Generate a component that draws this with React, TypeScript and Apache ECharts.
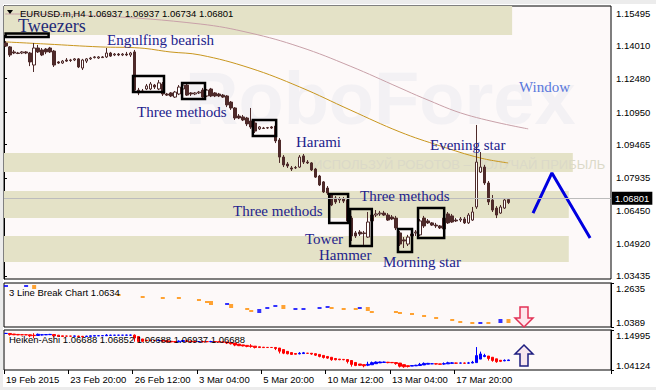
import React, { useEffect, useRef } from 'react';
import * as echarts from 'echarts';

const FONT = '"Liberation Sans", Arial, sans-serif';
const SERIF = '"Liberation Serif", "Times New Roman", serif';

const xLabels = ['19 Feb 2015', '23 Feb 20:00', '26 Feb 12:00', '3 Mar 04:00', '5 Mar 20:00', '10 Mar 12:00', '13 Mar 04:00', '17 Mar 20:00'];
const mainTicks = [1.15495, 1.1401, 1.1248, 1.1095, 1.09465, 1.07935, 1.0645, 1.0492, 1.03435];
const lbTicks = [1.0389, 1.2635];
const haTicks = [1.04124, 1.14995];
const lastPrice = 1.06801;
const NBARS = 151;
const MAIN_MIN = 1.03297;
const MAIN_MAX = 1.15816;

// [open, close, low, high]
const candles: number[][] = [
  [1.1412, 1.1398, 1.1394, 1.1421],
  [1.1394, 1.1357, 1.1348, 1.1398],
  [1.1371, 1.1366, 1.1361, 1.1380],
  [1.1366, 1.1364, 1.1361, 1.1371],
  [1.1366, 1.1371, 1.1361, 1.1375],
  [1.1371, 1.1366, 1.1361, 1.1375],
  [1.1366, 1.1325, 1.1306, 1.1371],
  [1.1311, 1.1389, 1.1279, 1.1412],
  [1.1389, 1.1371, 1.1366, 1.1403],
  [1.1380, 1.1357, 1.1352, 1.1389],
  [1.1384, 1.1371, 1.1361, 1.1389],
  [1.1389, 1.1371, 1.1366, 1.1394],
  [1.1375, 1.1311, 1.1302, 1.1380],
  [1.1325, 1.1320, 1.1316, 1.1329],
  [1.1320, 1.1329, 1.1316, 1.1334],
  [1.1334, 1.1329, 1.1325, 1.1343],
  [1.1334, 1.1332, 1.1325, 1.1339],
  [1.1334, 1.1339, 1.1329, 1.1343],
  [1.1339, 1.1302, 1.1297, 1.1343],
  [1.1297, 1.1334, 1.1288, 1.1339],
  [1.1329, 1.1339, 1.1320, 1.1343],
  [1.1339, 1.1343, 1.1334, 1.1348],
  [1.1345, 1.1348, 1.1341, 1.1352],
  [1.1343, 1.1348, 1.1339, 1.1352],
  [1.1348, 1.1345, 1.1343, 1.1352],
  [1.1348, 1.1366, 1.1343, 1.1389],
  [1.1366, 1.1352, 1.1348, 1.1371],
  [1.1357, 1.1361, 1.1352, 1.1366],
  [1.1361, 1.1357, 1.1352, 1.1366],
  [1.1357, 1.1361, 1.1352, 1.1366],
  [1.1361, 1.1357, 1.1352, 1.1371],
  [1.1357, 1.1366, 1.1348, 1.1371],
  [1.1371, 1.1196, 1.1183, 1.1380],
  [1.1196, 1.1183, 1.1173, 1.1206],
  [1.1187, 1.1192, 1.1183, 1.1201],
  [1.1201, 1.1215, 1.1196, 1.1224],
  [1.1201, 1.1224, 1.1196, 1.1233],
  [1.1219, 1.1210, 1.1201, 1.1224],
  [1.1201, 1.1229, 1.1196, 1.1242],
  [1.1224, 1.1178, 1.1169, 1.1233],
  [1.1178, 1.1173, 1.1169, 1.1183],
  [1.1183, 1.1169, 1.1164, 1.1187],
  [1.1164, 1.1187, 1.1160, 1.1192],
  [1.1178, 1.1210, 1.1173, 1.1219],
  [1.1201, 1.1219, 1.1196, 1.1229],
  [1.1219, 1.1173, 1.1169, 1.1224],
  [1.1183, 1.1178, 1.1169, 1.1187],
  [1.1178, 1.1183, 1.1173, 1.1187],
  [1.1183, 1.1187, 1.1178, 1.1192],
  [1.1196, 1.1164, 1.1160, 1.1206],
  [1.1169, 1.1196, 1.1164, 1.1201],
  [1.1201, 1.1169, 1.1164, 1.1206],
  [1.1183, 1.1169, 1.1164, 1.1187],
  [1.1178, 1.1169, 1.1164, 1.1183],
  [1.1173, 1.1164, 1.1160, 1.1178],
  [1.1169, 1.1128, 1.1118, 1.1173],
  [1.1141, 1.1114, 1.1105, 1.1146],
  [1.1114, 1.1068, 1.1059, 1.1118],
  [1.1077, 1.1068, 1.1063, 1.1086],
  [1.1073, 1.1059, 1.1054, 1.1082],
  [1.1068, 1.1041, 1.1031, 1.1073],
  [1.1054, 1.1027, 1.1018, 1.1114],
  [1.1045, 1.1008, 1.0999, 1.1054],
  [1.1018, 1.1027, 1.1013, 1.1031],
  [1.1022, 1.1020, 1.1018, 1.1027],
  [1.1022, 1.1024, 1.1018, 1.1027],
  [1.1027, 1.1022, 1.1018, 1.1031],
  [1.1031, 1.0963, 1.0953, 1.1036],
  [1.0967, 1.0889, 1.0862, 1.0976],
  [1.0889, 1.0853, 1.0843, 1.0898],
  [1.0857, 1.0848, 1.0839, 1.0866],
  [1.0839, 1.0834, 1.0825, 1.0848],
  [1.0839, 1.0841, 1.0834, 1.0848],
  [1.0843, 1.0889, 1.0839, 1.0898],
  [1.0894, 1.0866, 1.0857, 1.0903],
  [1.0866, 1.0862, 1.0857, 1.0875],
  [1.0862, 1.0830, 1.0825, 1.0866],
  [1.0834, 1.0797, 1.0793, 1.0839],
  [1.0802, 1.0761, 1.0756, 1.0807],
  [1.0775, 1.0729, 1.0724, 1.0779],
  [1.0747, 1.0724, 1.0715, 1.0756],
  [1.0715, 1.0669, 1.0664, 1.0724],
  [1.0701, 1.0683, 1.0674, 1.0710],
  [1.0692, 1.0697, 1.0678, 1.0706],
  [1.0697, 1.0687, 1.0678, 1.0706],
  [1.0692, 1.0596, 1.0591, 1.0697],
  [1.0609, 1.0527, 1.0504, 1.0619],
  [1.0541, 1.0527, 1.0518, 1.0550],
  [1.0545, 1.0536, 1.0527, 1.0554],
  [1.0541, 1.0538, 1.0486, 1.0550],
  [1.0522, 1.0591, 1.0518, 1.0637],
  [1.0596, 1.0623, 1.0587, 1.0642],
  [1.0623, 1.0628, 1.0614, 1.0646],
  [1.0628, 1.0632, 1.0619, 1.0642],
  [1.0632, 1.0623, 1.0619, 1.0642],
  [1.0623, 1.0600, 1.0596, 1.0632],
  [1.0614, 1.0605, 1.0600, 1.0623],
  [1.0609, 1.0564, 1.0554, 1.0619],
  [1.0541, 1.0490, 1.0481, 1.0550],
  [1.0509, 1.0504, 1.0472, 1.0522],
  [1.0490, 1.0522, 1.0481, 1.0532],
  [1.0527, 1.0536, 1.0522, 1.0545],
  [1.0541, 1.0545, 1.0527, 1.0554],
  [1.0532, 1.0596, 1.0527, 1.0605],
  [1.0609, 1.0573, 1.0564, 1.0619],
  [1.0596, 1.0587, 1.0582, 1.0605],
  [1.0587, 1.0577, 1.0573, 1.0591],
  [1.0577, 1.0573, 1.0564, 1.0587],
  [1.0573, 1.0564, 1.0559, 1.0577],
  [1.0559, 1.0609, 1.0554, 1.0619],
  [1.0628, 1.0587, 1.0582, 1.0637],
  [1.0619, 1.0591, 1.0587, 1.0628],
  [1.0600, 1.0596, 1.0591, 1.0609],
  [1.0600, 1.0605, 1.0591, 1.0614],
  [1.0605, 1.0587, 1.0582, 1.0614],
  [1.0587, 1.0623, 1.0582, 1.0632],
  [1.0600, 1.0637, 1.0596, 1.0660],
  [1.0660, 1.0866, 1.0651, 1.1036],
  [1.0820, 1.0843, 1.0816, 1.0912],
  [1.0843, 1.0770, 1.0761, 1.0853],
  [1.0770, 1.0683, 1.0669, 1.0779],
  [1.0692, 1.0646, 1.0637, 1.0715],
  [1.0655, 1.0623, 1.0609, 1.0664],
  [1.0632, 1.0660, 1.0628, 1.0669],
  [1.0655, 1.0692, 1.0651, 1.0701],
  [1.06937, 1.06801, 1.06734, 1.06937],
];

// moving averages (bar position, price)
const goldX = [0.3, 10.7, 23.9, 33.8, 41.3, 48.8, 61.2, 73.6, 86.1, 98.5, 108.5, 118.4, 125.4];
const goldY = [1.1417, 1.1407, 1.1394, 1.1389, 1.1371, 1.1357, 1.1297, 1.121, 1.1105, 1.1004, 1.094, 1.0885, 1.0862];
const mauveX = [0.3, 23.9, 48.8, 61.2, 73.6, 86.1, 98.5, 104.2, 115.2, 130.4];
const mauveY = [1.1545, 1.1536, 1.1499, 1.1458, 1.1394, 1.1306, 1.1206, 1.116, 1.1082, 1.1018];

// "Window" chevron
const winX = [131.6, 136.3, 145.8];
const winY = [1.0632, 1.0816, 1.0518];

// shaded zones
const bandX0 = [0, 0, 0, 0];
const bandX1 = [126.4, 141.5, 140.5, 140.5];
const bandTop = [MAIN_MAX, 1.0908, 1.0733, 1.0527];
const bandBottom = [1.1449, 1.082, 1.0609, 1.0408];

// pattern boxes
const boxX0 = [0.4, 32.1, 44.3, 61.9, 80.9, 86.1, 98.0, 103.0];
const boxX1 = [11.1, 39.8, 50.0, 67.7, 85.6, 91.5, 101.5, 109.5];
const boxTop = [1.1456, 1.1261, 1.1229, 1.1059, 1.072, 1.0651, 1.0559, 1.0655];
const boxBottom = [1.1439, 1.1187, 1.1155, 1.0985, 1.0587, 1.0481, 1.0454, 1.0518];

// 3 Line Break marks
const lbIndex = [0, 5, 7, 28, 34, 39, 43, 48, 50, 51, 55, 56, 60, 61, 63, 65, 67, 69, 72, 74, 78, 80, 81, 84, 87, 88, 90, 91, 97, 98, 101, 104, 107, 111, 113, 116, 118, 120, 123, 125];
const lbValue = [1.2482, 1.2482, 1.2431, 1.2022, 1.192, 1.1869, 1.1869, 1.1767, 1.1665, 1.1614, 1.1563, 1.1461, 1.1308, 1.1206, 1.1206, 1.1359, 1.1461, 1.141, 1.1308, 1.1308, 1.1359, 1.141, 1.1359, 1.1308, 1.1308, 1.1359, 1.1308, 1.1155, 1.1155, 1.1104, 1.1053, 1.095, 1.0849, 1.0746, 1.0644, 1.0593, 1.0593, 1.0593, 1.0695, 1.0695];
const lbUp = [1, 1, 0, 0, 0, 0, 0, 0, 0, 0, 1, 0, 0, 0, 1, 1, 1, 0, 1, 1, 1, 1, 0, 0, 0, 1, 0, 0, 0, 0, 0, 0, 0, 0, 0, 0, 1, 0, 1, 0];
const lbBig = [0, 0, 1, 0, 0, 0, 0, 0, 0, 1, 0, 1, 0, 0, 1, 0, 0, 1, 0, 0, 0, 0, 0, 0, 0, 0, 1, 0, 0, 0, 0, 0, 0, 0, 0, 0, 0, 0, 1, 1];

const annotations = [
  { t: 'Tweezers', x: 18, y: 26, size: 18, color: '#1f2a78' },
  { t: 'Engulfing bearish', x: 107, y: 40, size: 15, color: '#22228c' },
  { t: 'Three methods', x: 137, y: 112, size: 15, color: '#22228c' },
  { t: 'Harami', x: 296, y: 142, size: 15, color: '#22228c' },
  { t: 'Evening star', x: 430, y: 145, size: 15, color: '#22228c' },
  { t: 'Window', x: 519, y: 87, size: 15, color: '#5a78dc' },
  { t: 'Three methods', x: 233, y: 211, size: 15, color: '#22228c' },
  { t: 'Three methods', x: 360, y: 196, size: 15, color: '#22228c' },
  { t: 'Tower', x: 305, y: 239, size: 15, color: '#22228c' },
  { t: 'Hammer', x: 319, y: 255, size: 15, color: '#22228c' },
  { t: 'Morning star', x: 383, y: 262, size: 15, color: '#22228c' },
];

function heikenAshi(src: number[][]) {
  const out: number[][] = [];
  let po = 0;
  let pc = 0;
  src.forEach(([o, c, l, h], i) => {
    const hc = (o + c + l + h) / 4;
    const ho = i === 0 ? (o + c) / 2 : (po + pc) / 2;
    out.push([ho, hc, Math.min(l, ho, hc), Math.max(h, ho, hc)]);
    po = ho;
    pc = hc;
  });
  return out;
}

const rectRenderer = (style: any) => (params: any, api: any) => {
  const a = api.coord([api.value(0), api.value(2)]);
  const b = api.coord([api.value(1), api.value(3)]);
  return {
    type: 'rect',
    shape: {
      x: Math.min(a[0], b[0]),
      y: Math.min(a[1], b[1]),
      width: Math.abs(b[0] - a[0]),
      height: Math.abs(b[1] - a[1]),
    },
    style,
  };
};

export default function App() {
  const ref = useRef<HTMLDivElement>(null);
  useEffect(() => {
    const chart = echarts.init(ref.current as HTMLDivElement, null, { renderer: 'svg' });
    const cats = Array.from({ length: NBARS }, (_, i) => String(i));
    const ha = heikenAshi(candles);
    const bandData = bandX0.map((x, i) => [x, bandX1[i], bandTop[i], bandBottom[i]]);
    const boxData = boxX0.map((x, i) => [x, boxX1[i], boxTop[i], boxBottom[i]]);
    const lbItems = (up: number) =>
      lbIndex
        .map((idx, i) => ({ idx, i }))
        .filter((d) => lbUp[d.i] === up)
        .map((d) => ({ value: [d.idx, lbValue[d.i]], symbolSize: lbBig[d.i] ? [4, 4] : [4, 2] }));

    const gridBase = { left: 4, width: 607, show: true, backgroundColor: '#fdf9f9', borderColor: '#000', borderWidth: 1 };
    const hiddenCat = (gridIndex: number) => ({
      type: 'category', gridIndex, data: cats, boundaryGap: true, show: false,
    });
    const labelStyle = { color: '#000', fontSize: 9.5, fontFamily: FONT };

    const option: any = {
      animation: false,
      backgroundColor: '#ffffff',
      grid: [
        { ...gridBase, top: 6, height: 273 },
        { ...gridBase, top: 283, height: 44 },
        { ...gridBase, top: 330, height: 40 },
      ],
      xAxis: [
        hiddenCat(0),
        { type: 'value', gridIndex: 0, min: 0, max: NBARS, show: false },
        hiddenCat(1),
        {
          type: 'category', gridIndex: 2, data: cats, boundaryGap: true,
          axisLine: { show: false },
          axisTick: { show: true, length: 4, interval: (i: number) => i % 16 === 0 && i / 16 < xLabels.length, lineStyle: { color: '#000' } },
          axisLabel: {
            ...labelStyle, margin: 4, align: 'left',
            interval: (i: number) => i % 16 === 0 && i / 16 < xLabels.length,
            formatter: (_v: string, i: number) => (i % 16 === 0 ? xLabels[i / 16] ?? '' : ''),
          },
        },
      ],
      yAxis: [
        {
          type: 'value', gridIndex: 0, position: 'right', min: MAIN_MIN, max: MAIN_MAX,
          axisLine: { show: true, lineStyle: { color: '#000' } },
          axisTick: { show: true, length: 3, customValues: mainTicks, lineStyle: { color: '#000' } },
          axisLabel: { ...labelStyle, margin: 5, customValues: mainTicks, formatter: (v: number) => v.toFixed(5) },
          splitLine: { show: false },
        },
        {
          type: 'value', gridIndex: 1, position: 'right', min: lbTicks[0], max: lbTicks[1],
          axisLine: { show: true, lineStyle: { color: '#000' } },
          axisTick: { show: true, length: 3, customValues: lbTicks, lineStyle: { color: '#000' } },
          axisLabel: {
            ...labelStyle, margin: 5, customValues: lbTicks, formatter: (v: number) => v.toFixed(4),
            verticalAlignMinLabel: 'bottom', verticalAlignMaxLabel: 'top',
          },
          splitLine: { show: false },
        },
        {
          type: 'value', gridIndex: 2, position: 'right', min: haTicks[0], max: haTicks[1],
          axisLine: { show: true, lineStyle: { color: '#000' } },
          axisTick: { show: true, length: 3, customValues: haTicks, lineStyle: { color: '#000' } },
          axisLabel: {
            ...labelStyle, margin: 5, customValues: haTicks, formatter: (v: number) => v.toFixed(5),
            verticalAlignMinLabel: 'bottom', verticalAlignMaxLabel: 'top',
          },
          splitLine: { show: false },
        },
      ],
      series: [
        {
          type: 'custom', name: 'zones', xAxisIndex: 1, yAxisIndex: 0, z: 1, silent: true,
          renderItem: rectRenderer({ fill: '#e4e2c7' }),
          encode: { x: [0, 1], y: [2, 3] }, data: bandData,
        },
        {
          type: 'line', name: 'MA slow', xAxisIndex: 1, yAxisIndex: 0, z: 2, smooth: 0.4, showSymbol: false, silent: true,
          lineStyle: { color: '#c8a0a8', width: 1 },
          data: mauveX.map((x, i) => [x, mauveY[i]]),
        },
        {
          type: 'line', name: 'MA fast', xAxisIndex: 1, yAxisIndex: 0, z: 2, smooth: 0.4, showSymbol: false, silent: true,
          lineStyle: { color: '#c8961e', width: 1 },
          data: goldX.map((x, i) => [x, goldY[i]]),
        },
        {
          type: 'candlestick', name: 'EURUSD', xAxisIndex: 0, yAxisIndex: 0, z: 3, barWidth: 3,
          data: candles,
          itemStyle: { color: '#ffffff', color0: '#4e2a2a', borderColor: '#4e2a2a', borderColor0: '#4e2a2a', borderWidth: 1 },
          markLine: {
            silent: true, symbol: ['none', 'none'], animation: false,
            data: [{ yAxis: lastPrice }],
            lineStyle: { color: '#bcbcbc', type: 'solid', width: 1 },
            label: {
              show: true, position: 'end', distance: 1, formatter: lastPrice.toFixed(5),
              color: '#fff', backgroundColor: '#000', padding: [2, 3, 1, 3], fontSize: 9.5, fontFamily: FONT,
            },
          },
        },
        {
          type: 'custom', name: 'patterns', xAxisIndex: 1, yAxisIndex: 0, z: 4, silent: true,
          renderItem: rectRenderer({ fill: 'none', stroke: '#000', lineWidth: 2.5 }),
          encode: { x: [0, 1], y: [2, 3] }, data: boxData,
        },
        {
          type: 'line', name: 'window', xAxisIndex: 1, yAxisIndex: 0, z: 4, showSymbol: false, silent: true,
          lineStyle: { color: '#0000e0', width: 3 },
          data: winX.map((x, i) => [x, winY[i]]),
        },
        {
          type: 'scatter', name: 'LB up', xAxisIndex: 2, yAxisIndex: 1, symbol: 'rect', z: 3, silent: true,
          itemStyle: { color: '#0000ff' }, data: lbItems(1),
        },
        {
          type: 'scatter', name: 'LB down', xAxisIndex: 2, yAxisIndex: 1, symbol: 'rect', z: 3, silent: true,
          itemStyle: { color: '#ff8c00' }, data: lbItems(0),
        },
        {
          type: 'candlestick', name: 'Heiken-Ashi', xAxisIndex: 3, yAxisIndex: 2, z: 3, barWidth: 3,
          data: ha,
          itemStyle: { color: '#0000ff', color0: '#ff0000', borderColor: '#0000ff', borderColor0: '#ff0000', borderWidth: 1 },
        },
      ],
      graphic: [
        { type: 'rect', z: 0, shape: { x: 0, y: 0, width: 656, height: 4 }, style: { fill: '#ececec' } },
        { type: 'rect', z: 0, shape: { x: 0, y: 0, width: 3, height: 390 }, style: { fill: '#ececec' } },
        { type: 'rect', z: 0, shape: { x: 0, y: 387, width: 656, height: 3 }, style: { fill: '#ececec' } },
        {
          type: 'text', z: 1.2, x: 185, y: 98, silent: true,
          style: { text: 'RoboForex', font: `bold 74px ${FONT}`, fill: '#f3f1f4', verticalAlign: 'middle', textVerticalAlign: 'middle' },
        },
        {
          type: 'text', z: 1.2, x: 313, y: 164, silent: true,
          style: { text: 'ИСПОЛЬЗУЙ РОБОТОВ – ПОЛУЧАЙ ПРИБЫЛЬ', font: `13px ${FONT}`, fill: '#dbd9c8', verticalAlign: 'middle', textVerticalAlign: 'middle' },
        },
        { type: 'polygon', z: 6, shape: { points: [[7, 10], [13, 10], [10, 14]] }, style: { fill: '#000' } },
        {
          type: 'text', z: 6, x: 20, y: 13,
          style: { text: 'EURUSD.m,H4 1.06937 1.06937 1.06734 1.06801', font: `9.5px ${FONT}`, fill: '#000', verticalAlign: 'middle', textVerticalAlign: 'middle' },
        },
        {
          type: 'text', z: 6, x: 9, y: 292,
          style: { text: '3 Line Break Chart 1.0634', font: `9.5px ${FONT}`, fill: '#000', verticalAlign: 'middle', textVerticalAlign: 'middle' },
        },
        {
          type: 'text', z: 6, x: 9, y: 339,
          style: { text: 'Heiken-Ashi 1.06688 1.06852 1.06688 1.06937 1.06688', font: `9.5px ${FONT}`, fill: '#000', verticalAlign: 'middle', textVerticalAlign: 'middle' },
        },
        ...annotations.map((a) => ({
          type: 'text', z: 7, x: a.x, y: a.y, silent: true,
          style: { text: a.t, font: `${a.size}px ${SERIF}`, fill: a.color, verticalAlign: 'middle', textVerticalAlign: 'middle' },
        })),
        {
          type: 'polygon', z: 6,
          shape: { points: [[520, 307], [528, 307], [528, 318], [533, 318], [524, 327], [515, 318], [520, 318]] },
          style: { fill: '#fde6ec', stroke: '#e23256', lineWidth: 1.5 },
        },
        {
          type: 'polygon', z: 6,
          shape: { points: [[524, 345], [533, 354], [528, 354], [528, 366], [520, 366], [520, 354], [515, 354]] },
          style: { fill: '#f7e6ee', stroke: '#1e1e80', lineWidth: 1.5 },
        },
      ],
    };
    chart.setOption(option);
    return () => chart.dispose();
  }, []);
  return <div ref={ref} style={{ position: 'fixed', left: 0, top: 0, width: 656, height: 390 }} />;
}
